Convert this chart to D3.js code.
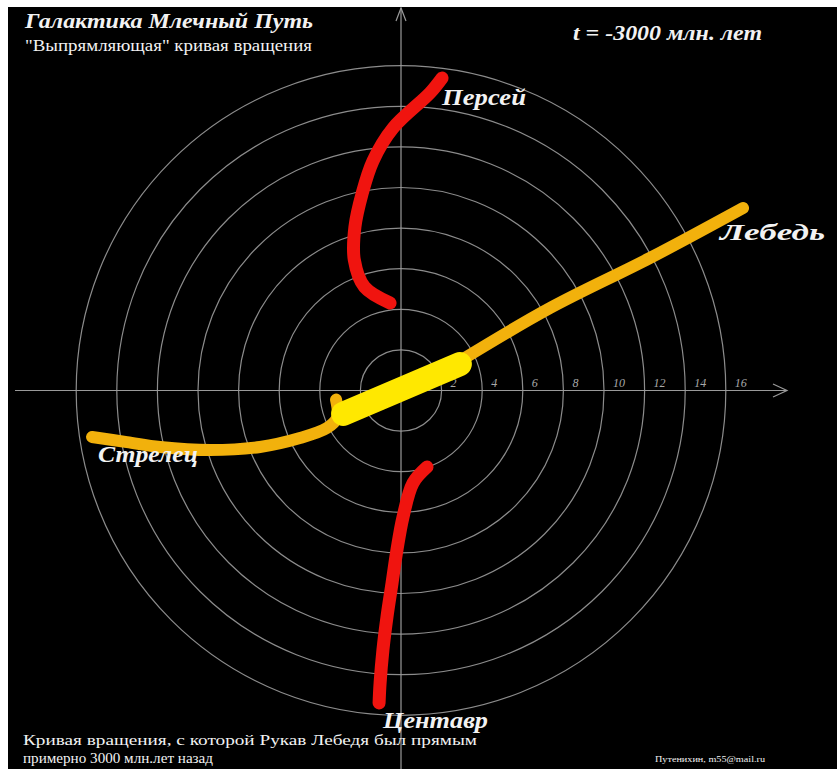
<!DOCTYPE html>
<html>
<head>
<meta charset="utf-8">
<script src="https://cdn.jsdelivr.net/npm/d3@7"></script>
<style>
  body { margin: 0; background: #fff; }
  svg { display: block; }
  .lbl { font-family: "Liberation Serif", "DejaVu Serif", serif; fill: #f2f2f2; }
</style>
</head>
<body>
<div id="chart"></div>
<script>
// chart size
var width = 837;
var height = 769;

// rings and tick labels, kpc
var rings = [2, 4, 6, 8, 10, 12, 14, 16];
var tickLabels = ["2", "4", "6", "8", "10", "12", "14", "16"];

// arms, [x, y] in kpc from the centre
var perseus = [[2.02, 15.39], [1.43, 14.66], [-0.39, 12.93], [-1.38, 11.31], [-1.92, 9.68],
  [-2.27, 8.05], [-2.30, 6.43], [-1.80, 5.10], [-0.54, 4.31]];
var centaurus = [[1.28, -3.77], [0.59, -4.56], [0.10, -6.23], [-0.20, -7.86], [-0.44, -9.48],
  [-0.69, -11.15], [-0.89, -12.78], [-1.03, -14.41], [-1.08, -15.39]];
var cygnus = [[2.81, 1.40], [7.34, 4.06], [12.27, 6.53], [16.85, 8.99]];
var sagittarius = [[-3.20, -0.45], [-3.15, -1.35], [-3.65, -1.85], [-4.98, -2.34], [-6.95, -2.78],
  [-9.41, -2.93], [-11.87, -2.78], [-13.50, -2.54], [-15.22, -2.29]];
var bar = [[-2.85, -1.15], [2.90, 1.30]];

var armNames = ["Персей", "Лебедь", "Стрелец", "Центавр"];

var cx = 401, cy = 390.5, kpc = 20.3;

var x = d3.scaleLinear().domain([0, 1]).range([cx, cx + kpc]);
var y = d3.scaleLinear().domain([0, 1]).range([cy, cy - kpc]);

var svg = d3.select("#chart")
  .append("svg")
  .attr("width", width)
  .attr("height", height);

// black picture area with thin white margin left/top
svg.append("rect")
  .attr("x", 8).attr("y", 7)
  .attr("width", width - 8).attr("height", height - 7)
  .attr("fill", "#000");

// rings
svg.append("g").selectAll("circle")
  .data(rings)
  .enter().append("circle")
  .attr("cx", x(0)).attr("cy", y(0))
  .attr("r", function(d) { return x(d) - x(0); })
  .attr("fill", "none")
  .attr("stroke", "#8c8c8c")
  .attr("stroke-width", 1.2);

// axes
var axisCol = "#9a9a9a";
svg.append("line")
  .attr("x1", 15).attr("x2", 787)
  .attr("y1", y(0)).attr("y2", y(0))
  .attr("stroke", axisCol).attr("stroke-width", 1.2);
svg.append("path")
  .attr("d", "M773,384L787," + y(0) + "L773,397")
  .attr("fill", "none").attr("stroke", axisCol).attr("stroke-width", 1.2);
svg.append("line")
  .attr("x1", x(0)).attr("x2", x(0))
  .attr("y1", 8).attr("y2", height)
  .attr("stroke", axisCol).attr("stroke-width", 1.2);
svg.append("path")
  .attr("d", "M" + (x(0) - 5) + ",21L" + x(0) + ",8L" + (x(0) + 5) + ",21")
  .attr("fill", "none").attr("stroke", axisCol).attr("stroke-width", 1.2);

// tick labels
svg.append("g").selectAll("text")
  .data(rings)
  .enter().append("text")
  .attr("x", function(d) { return x(d) + 9; })
  .attr("y", y(0) - 4)
  .attr("font-family", "Liberation Serif, serif")
  .attr("font-style", "italic")
  .attr("font-size", 12)
  .attr("fill", "#a8a8a8")
  .text(function(d, i) { return tickLabels[i]; });

var line = d3.line()
  .x(function(d) { return x(d[0]); })
  .y(function(d) { return y(d[1]); })
  .curve(d3.curveCatmullRom);

function arm(data, col, w) {
  svg.append("path")
    .attr("d", line(data))
    .attr("fill", "none")
    .attr("stroke", col)
    .attr("stroke-width", w)
    .attr("stroke-linecap", "round")
    .attr("stroke-linejoin", "round");
}

arm(perseus, "#f0140f", 13);
arm(centaurus, "#f0140f", 13);
arm(sagittarius, "#f2b10c", 12);
arm(cygnus, "#f2b10c", 12);
arm(bar, "#ffe800", 24);

// arm names
var namePos = [[442, 105, 84], [720, 240, 105], [98, 462, 100], [383, 728, 105]];
svg.append("g").selectAll("text")
  .data(armNames)
  .enter().append("text")
  .attr("class", "lbl")
  .attr("x", function(d, i) { return namePos[i][0]; })
  .attr("y", function(d, i) { return namePos[i][1]; })
  .attr("textLength", function(d, i) { return namePos[i][2]; })
  .attr("lengthAdjust", "spacingAndGlyphs")
  .attr("font-size", 24)
  .attr("font-weight", "bold")
  .attr("font-style", "italic")
  .text(function(d) { return d; });

// titles
svg.append("text").attr("class", "lbl")
  .attr("x", 25).attr("y", 28)
  .attr("font-size", 21).attr("font-weight", "bold").attr("font-style", "italic")
  .attr("textLength", 288).attr("lengthAdjust", "spacingAndGlyphs")
  .text("Галактика Млечный Путь");
svg.append("text").attr("class", "lbl")
  .attr("x", 25).attr("y", 51)
  .attr("font-size", 16)
  .attr("textLength", 287).attr("lengthAdjust", "spacingAndGlyphs")
  .text("\"Выпрямляющая\" кривая вращения");
svg.append("text").attr("class", "lbl")
  .attr("x", 573).attr("y", 40)
  .attr("font-size", 21).attr("font-weight", "bold").attr("font-style", "italic")
  .attr("textLength", 189).attr("lengthAdjust", "spacingAndGlyphs")
  .text("t = -3000 млн. лет");

svg.append("text").attr("class", "lbl")
  .attr("x", 23).attr("y", 745)
  .attr("font-size", 15)
  .attr("textLength", 454).attr("lengthAdjust", "spacingAndGlyphs")
  .text("Кривая вращения, с которой Рукав Лебедя был прямым");
svg.append("text").attr("class", "lbl")
  .attr("x", 23).attr("y", 763)
  .attr("font-size", 15)
  .attr("textLength", 190).attr("lengthAdjust", "spacingAndGlyphs")
  .text("примерно 3000 млн.лет назад");

svg.append("text").attr("class", "lbl")
  .attr("x", 655).attr("y", 762)
  .attr("font-size", 8)
  .attr("textLength", 110).attr("lengthAdjust", "spacingAndGlyphs")
  .text("Путенихин, m55@mail.ru");
</script>
</body>
</html>
